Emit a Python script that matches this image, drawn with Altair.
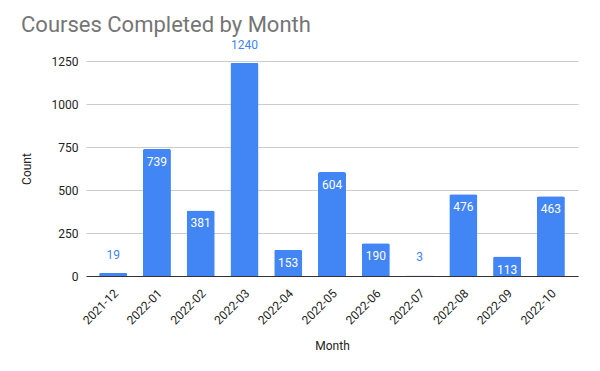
import altair as alt
import pandas as pd

months = ["2021-12", "2022-01", "2022-02", "2022-03", "2022-04", "2022-05",
          "2022-06", "2022-07", "2022-08", "2022-09", "2022-10"]
counts = [19, 739, 381, 1240, 153, 604, 190, 3, 476, 113, 463]
y_ticks = [0, 250, 500, 750, 1000, 1250]

df = pd.DataFrame({"Month": months, "Count": counts})
df["inside"] = (df["Count"] >= 100) & (df["Count"] < 1200)

FONT = "Roboto"
BLUE = "#4285F4"

x = alt.X("Month:N", sort=months, title="Month",
          scale=alt.Scale(paddingInner=0.36, paddingOuter=0.3),
          axis=alt.Axis(labelAngle=-45, labelAlign="right", labelBaseline="middle",
                        labelFontSize=12, labelColor="#222222", labelOffset=3,
                        labelFont=FONT, titleFont=FONT, titleFontSize=12,
                        titleFontWeight="normal", titleColor="#222222",
                        domainColor="#333333", ticks=False, labelPadding=15,
                        titlePadding=14))
y = alt.Y("Count:Q", title="Count",
          scale=alt.Scale(domain=[0, 1250], nice=False),
          axis=alt.Axis(values=y_ticks, format="d", labelFontSize=12,
                        labelColor="#222222",
                        labelFont=FONT, titleFont=FONT, titleFontSize=12,
                        titleFontWeight="normal", titleColor="#222222",
                        domain=False, ticks=False, labelPadding=8,
                        gridColor="#cccccc", titlePadding=18))

bars = alt.Chart(df).mark_bar(color=BLUE, cornerRadiusTopLeft=2,
                              cornerRadiusTopRight=2).encode(x=x, y=y)

inside = alt.Chart(df).transform_filter("datum.inside").mark_text(
    color="white", font=FONT, fontSize=12, baseline="middle", dy=13
).encode(x=alt.X("Month:N", sort=months), y="Count:Q", text="Count:Q")

outside = alt.Chart(df).transform_filter("!datum.inside").mark_text(
    color=BLUE, font=FONT, fontSize=12, baseline="middle", dy=-18
).encode(x=alt.X("Month:N", sort=months), y="Count:Q", text="Count:Q")

chart = alt.layer(bars, inside, outside).properties(
    width=492, height=215,
    autosize=alt.AutoSizeParams(type="none"),
    padding={"left": 78, "top": 53, "right": 14, "bottom": 87},
    title=alt.TitleParams("Courses Completed by Month", anchor="start",
                          font=FONT, fontSize=22, fontWeight="normal",
                          color="#757575", dx=1, offset=2),
).configure_view(stroke=None)

chart.save("out.html", embed_options={"renderer": "svg", "actions": False})
